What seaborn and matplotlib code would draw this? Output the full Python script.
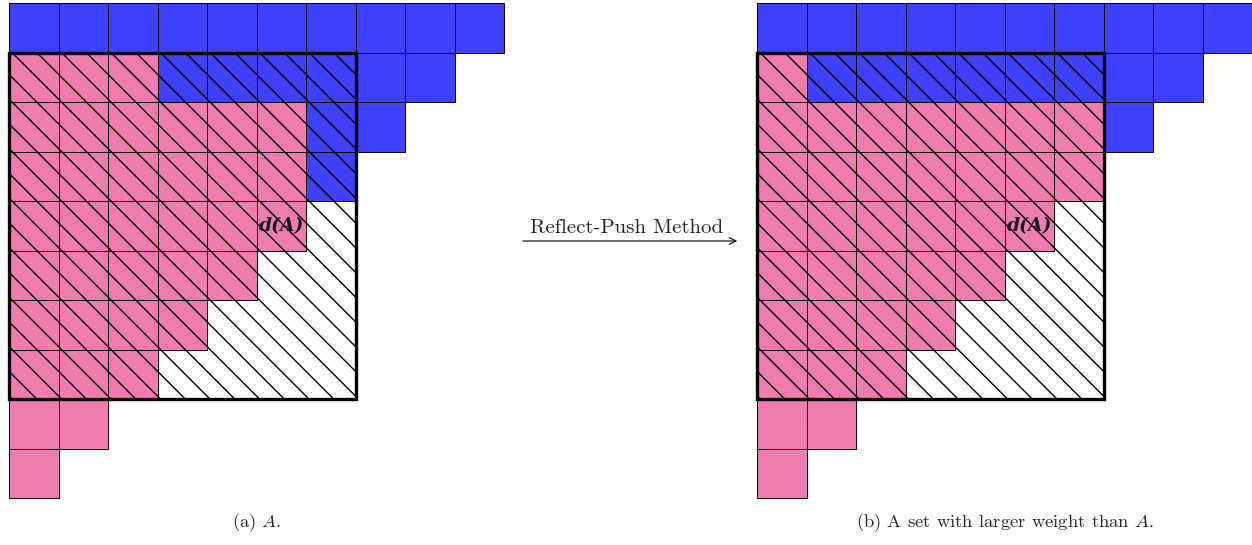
import numpy as np
import pandas as pd
import matplotlib
matplotlib.use("Agg")
import matplotlib.pyplot as plt
import seaborn as sns
from matplotlib.colors import ListedColormap
from matplotlib.patches import Rectangle, FancyArrowPatch

sns.set_style("white")
plt.rcParams["mathtext.fontset"] = "cm"

PINK = "#f07cb0"
BLUE = "#4040ff"

n_cols = 10
n_rows = 10

# left grid (set A): pink cells per row, blue column range per row
pink_a = [0, 3, 6, 6, 6, 5, 4, 3, 2, 1]
blue_a = [(0, 10), (3, 9), (6, 8), (6, 7), None, None, None, None, None, None]

# right grid (set with larger weight)
pink_b = [0, 1, 7, 7, 6, 5, 4, 3, 2, 1]
blue_b = [(0, 10), (1, 9), (7, 8), None, None, None, None, None, None, None]

# box covering rows 1..7, cols 0..6
box_col0, box_row0, box_size = 0, 1, 7
label_row, label_col = 4, 5
captions = [r"(a) $A$.", r"(b) A set with larger weight than $A$."]
arrow_label = "Reflect-Push Method"


def grid_frame(pink, blue):
    vals = np.full((n_rows, n_cols), np.nan)
    for r in range(n_rows):
        vals[r, :pink[r]] = 0
        if blue[r] is not None:
            vals[r, blue[r][0]:blue[r][1]] = 1
    return pd.DataFrame(vals)


def draw_grid(ax, pink, blue, caption):
    df = grid_frame(pink, blue)
    sns.heatmap(df, mask=df.isna(), cmap=ListedColormap([PINK, BLUE]), vmin=0, vmax=1,
                cbar=False, linewidths=0.7, linecolor="black",
                xticklabels=False, yticklabels=False, ax=ax)
    # no borders on empty cells
    mesh = ax.collections[0]
    ec = np.zeros((n_rows * n_cols, 4))
    ec[:, 3] = np.where(df.isna().values.ravel(), 0.0, 1.0)
    mesh.set_edgecolor(ec)
    mesh.set_clip_on(False)
    ax.set_xlim(0, n_cols)
    ax.set_ylim(n_rows, 0)
    ax.axis("off")

    # diagonal hatch inside the box
    x0, y0 = box_col0, box_row0
    x1, y1 = x0 + box_size, y0 + box_size
    for c in np.arange(x0 - y1 + 0.06, x1 - y0, 0.5):
        xa = max(x0, y0 + c)
        xb = min(x1, y1 + c)
        if xb > xa:
            ax.plot([xa, xb], [xa - c, xb - c], color="black", lw=1.0, solid_capstyle="butt")
    ax.add_patch(Rectangle((x0, y0), box_size, box_size, fill=False, lw=2.4,
                           edgecolor="black", clip_on=False, zorder=5))
    ax.text(label_col + 1 - 0.03, label_row + 0.5, "d(A)", ha="right", va="center",
            fontsize=13.5, family="DejaVu Serif", weight="bold", style="italic",
            color="#1a1a1a", zorder=6)
    ax.text(n_cols / 2, n_rows + 0.5, caption, ha="center", va="center", fontsize=13.4,
            family="cmr10")


W, H = 1252, 545
fig = plt.figure(figsize=(W / 100, H / 100), dpi=100)
ax1 = fig.add_axes([9 / W, 47 / H, 495 / W, 495 / H])
ax2 = fig.add_axes([757 / W, 47 / H, 495 / W, 495 / H])
draw_grid(ax1, pink_a, blue_a, captions[0])
draw_grid(ax2, pink_b, blue_b, captions[1])

fig.add_artist(FancyArrowPatch((520 / W, 1 - 241 / H), (740 / W, 1 - 241 / H),
                               transform=fig.transFigure, arrowstyle="->",
                               mutation_scale=12, lw=0.8, color="black"))
fig.text(627 / W, 1 - 228 / H, arrow_label, ha="center", va="center", fontsize=15,
         family="cmr10")

fig.savefig("out.png", dpi=100)
